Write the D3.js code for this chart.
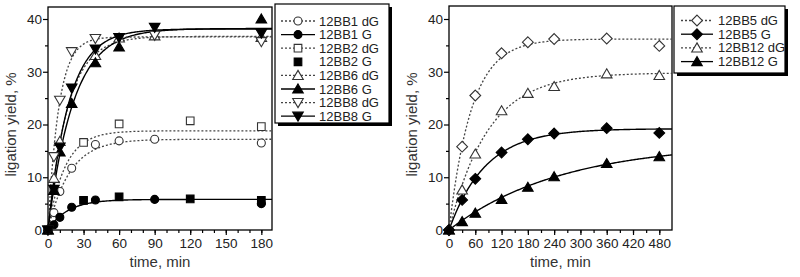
<!DOCTYPE html>
<html><head><meta charset="utf-8">
<script src="https://cdn.jsdelivr.net/npm/d3@7"></script>
<style>body{margin:0;background:#fff}svg{display:block}</style>
</head><body>
<svg id="c" width="800" height="277"></svg>
<script>
// ---- Left panel data ----
const leftNames = ["12BB1 dG","12BB1 G","12BB2 dG","12BB2 G","12BB6 dG","12BB6 G","12BB8 dG","12BB8 G"];
const leftSymbols = ["circle","circle","square","square","triangle","triangle","triangleDown","triangleDown"];
const leftFilled = [false,true,false,true,false,true,false,true];
const leftLine = ["dot","solid","dot","none","dot","solid","dot","solid"];
const bb1dG_t = [0,5,10,20,40,60,90,180], bb1dG_y = [0,3.3,7.3,11.7,16.2,16.9,17.2,16.5];
const bb1G_t = [0,5,10,20,40,90,180], bb1G_y = [0,1.0,2.4,4.3,5.7,5.8,5.0];
const bb2dG_t = [0,5,30,60,120,180], bb2dG_y = [0,7.6,16.6,20.1,20.7,19.6];
const bb2G_t = [0,30,60,120,180], bb2G_y = [0,5.6,6.3,5.9,5.6];
const bb6dG_t = [0,5,10,40,60,90,180], bb6dG_y = [0,9.8,16.8,33.1,36.4,36.8,36.5];
const bb6G_t = [0,5,10,20,40,60,180], bb6G_y = [0,7.5,14.8,24.0,31.7,34.7,40.0];
const bb8dG_t = [0,5,10,20,40,60,90,180], bb8dG_y = [0,13.9,24.6,33.8,36.3,36.5,36.9,35.7];
const bb8G_t = [0,5,10,20,40,60,90,180], bb8G_y = [0,7.7,15.7,26.9,34.3,36.5,38.4,37.3];
const leftT = [bb1dG_t,bb1G_t,bb2dG_t,bb2G_t,bb6dG_t,bb6G_t,bb8dG_t,bb8G_t];
const leftY = [bb1dG_y,bb1G_y,bb2dG_y,bb2G_y,bb6dG_y,bb6G_y,bb8dG_y,bb8G_y];
// first-order fit parameters: plateau, rate (1/min)
const leftPlateau = [17.2,5.8,18.8,null,36.7,38.2,36.6,38.1];
const leftRate = [0.055,0.06,0.07,null,0.06,0.047,0.11,0.057];
const leftXTicks = [0,30,60,90,120,150,180];

// ---- Right panel data ----
const rightNames = ["12BB5 dG","12BB5 G","12BB12 dG","12BB12 G"];
const rightSymbols = ["diamond","diamond","triangle","triangle"];
const rightFilled = [false,true,false,true];
const rightLine = ["dot","solid","dot","solid"];
const rightTimes = [0,30,60,120,180,240,360,480];
const bb5dG_y = [0,15.8,25.5,33.5,35.6,36.2,36.3,34.9];
const bb5G_y = [0,5.7,9.7,14.7,17.2,18.3,19.3,18.4];
const bb12dG_y = [0,7.6,14.4,22.6,25.9,27.2,29.6,29.3];
const bb12G_y = [0,1.6,3.2,5.8,8.1,10.1,12.6,13.9];
const rightY = [bb5dG_y,bb5G_y,bb12dG_y,bb12G_y];
const rightPlateau = [36.2,19.2,29.8,16.5];
const rightRate = [0.0195,0.012,0.0113,0.0039];
const rightXTicks = [0,60,120,180,240,300,360,420,480];
const yTicks = [0,10,20,30,40];

const svg = d3.select("#c");
const FONT = "Liberation Sans, Arial, sans-serif";

function symbolPath(kind, s) {
  if (kind === "circle") return d3.symbol(d3.symbolCircle, s*s*0.62)();
  if (kind === "square") return d3.symbol(d3.symbolSquare, s*s*0.72)();
  if (kind === "diamond") { const h = s*0.6; return `M0,${-h}L${h},0L0,${h}L${-h},0Z`; }
  if (kind === "triangle") { const h = s*0.56; return `M0,${-h}L${h*1.05},${h*0.8}L${-h*1.05},${h*0.8}Z`; }
  if (kind === "triangleDown") { const h = s*0.56; return `M0,${h}L${h*1.05},${-h*0.8}L${-h*1.05},${-h*0.8}Z`; }
}

function drawMarker(g, kind, filled, x, y) {
  g.append("path").attr("d", symbolPath(kind, 9)).attr("transform", `translate(${x},${y})`)
    .attr("fill", filled ? "#000" : "#fff").attr("stroke", filled ? "#000" : "#333").attr("stroke-width", 1.1);
}

function panel(opt) {
  const x = d3.scaleLinear().domain(opt.xDomain).range([opt.left, opt.right]);
  const y = d3.scaleLinear().domain([0, 40]).range([230, 19]);
  const g = svg.append("g");
  g.append("rect").attr("x", opt.left).attr("y", opt.top).attr("width", opt.right-opt.left).attr("height", 230-opt.top)
    .attr("fill", "none").attr("stroke", "#000").attr("stroke-width", 1.3);
  const xAx = g.append("g").attr("transform", "translate(0,230)")
    .call(d3.axisBottom(x).tickValues(opt.xTicks).tickSize(5).tickSizeOuter(0).tickPadding(3).tickFormat(d3.format("d")));
  const xMinor = g.append("g").attr("transform", "translate(0,230)")
    .call(d3.axisBottom(x).tickValues(d3.range(0, opt.xDomain[1], opt.xMinor)).tickSize(3).tickSizeOuter(0).tickFormat(""));
  const yAx = g.append("g").attr("transform", `translate(${opt.left},0)`)
    .call(d3.axisLeft(y).tickValues(yTicks).tickSize(5).tickSizeOuter(0).tickPadding(1));
  const yMinor = g.append("g").attr("transform", `translate(${opt.left},0)`)
    .call(d3.axisLeft(y).tickValues([5,15,25,35]).tickSize(3).tickSizeOuter(0).tickFormat(""));
  [xAx,xMinor,yAx,yMinor].forEach(a => { a.select(".domain").remove(); a.selectAll("line").attr("stroke","#000").attr("stroke-width",1.2); });
  [xAx,yAx].forEach(a => a.selectAll("text").attr("font-family", FONT).attr("font-size", 13.5).attr("fill","#222"));
  g.append("text").attr("x", (opt.left+opt.right)/2).attr("y", 267).attr("text-anchor","middle")
    .attr("font-family", FONT).attr("font-size", 15).attr("fill","#333").text("time, min");
  g.append("text").attr("transform", `translate(${opt.left-32},${(19+230)/2}) rotate(-90)`).attr("text-anchor","middle")
    .attr("font-family", FONT).attr("font-size", 15).attr("fill","#333").text("ligation yield, %");

  const clip = "clip" + opt.id;
  svg.append("clipPath").attr("id", clip).append("rect").attr("x", opt.left).attr("y", opt.top).attr("width", opt.right-opt.left).attr("height", 230-opt.top);
  const plot = g.append("g").attr("clip-path", `url(#${clip})`);
  const line = d3.line().x(d => x(d[0])).y(d => y(d[1]));
  opt.names.forEach((n, i) => {
    if (opt.lines[i] === "none" || opt.plateau[i] == null) return;
    const pts = d3.range(0, opt.xDomain[1] + 1, opt.xDomain[1] / 200).map(t => [t, opt.plateau[i] * (1 - Math.exp(-opt.rate[i] * t))]);
    plot.append("path").attr("d", line(pts)).attr("fill","none")
      .attr("stroke", opt.lines[i] === "dot" ? "#444" : "#000").attr("stroke-width", opt.lines[i] === "dot" ? 1.3 : 1.4)
      .attr("stroke-dasharray", opt.lines[i] === "dot" ? "2,2" : null);
  });
  const mk = svg.append("g");
  opt.names.forEach((n, i) => {
    const ts = opt.times[i], ys = opt.values[i];
    ts.forEach((t, j) => drawMarker(mk, opt.symbols[i], opt.filled[i], x(t), y(ys[j])));
  });
  const L = opt.legend;
  const lg = svg.append("g");
  lg.append("rect").attr("x", L.x+3).attr("y", L.y+3).attr("width", L.w).attr("height", L.h).attr("fill", "#000");
  lg.append("rect").attr("x", L.x).attr("y", L.y).attr("width", L.w).attr("height", L.h).attr("fill", "#fff").attr("stroke","#000").attr("stroke-width",1.2);
  opt.names.forEach((n, i) => {
    const ry = L.y + L.first + i * L.step;
    if (opt.lines[i] !== "none") {
      lg.append("line").attr("x1", L.x+L.l0).attr("x2", L.x+L.l1).attr("y1", ry).attr("y2", ry)
        .attr("stroke", opt.lines[i] === "dot" ? "#444" : "#000").attr("stroke-width", 1.3)
        .attr("stroke-dasharray", opt.lines[i] === "dot" ? "2,2" : null);
    }
    drawMarker(lg, opt.symbols[i], opt.filled[i], L.x + (L.l0+L.l1)/2, ry);
    lg.append("text").attr("x", L.x + L.tx).attr("y", ry + 4.5).attr("font-family", FONT).attr("font-size", 13).attr("fill","#222").text(n);
  });
}

panel({id:"L", left:48, right:272, top:7, xDomain:[0,189], xTicks:leftXTicks, xMinor:10,
  names:leftNames, symbols:leftSymbols, filled:leftFilled, lines:leftLine, times:leftT, values:leftY,
  plateau:leftPlateau, rate:leftRate,
  legend:{x:275, y:4, w:114, h:119, first:17, step:13.6, l0:6, l1:40, tx:44}});

panel({id:"R", left:449, right:672, top:6, xDomain:[0,509], xTicks:rightXTicks, xMinor:30,
  names:rightNames, symbols:rightSymbols, filled:rightFilled, lines:rightLine,
  times:rightNames.map(() => rightTimes), values:rightY,
  plateau:rightPlateau, rate:rightRate,
  legend:{x:674, y:6, w:111, h:67, first:14.5, step:13.7, l0:7, l1:39, tx:44}});
</script>
</body></html>
